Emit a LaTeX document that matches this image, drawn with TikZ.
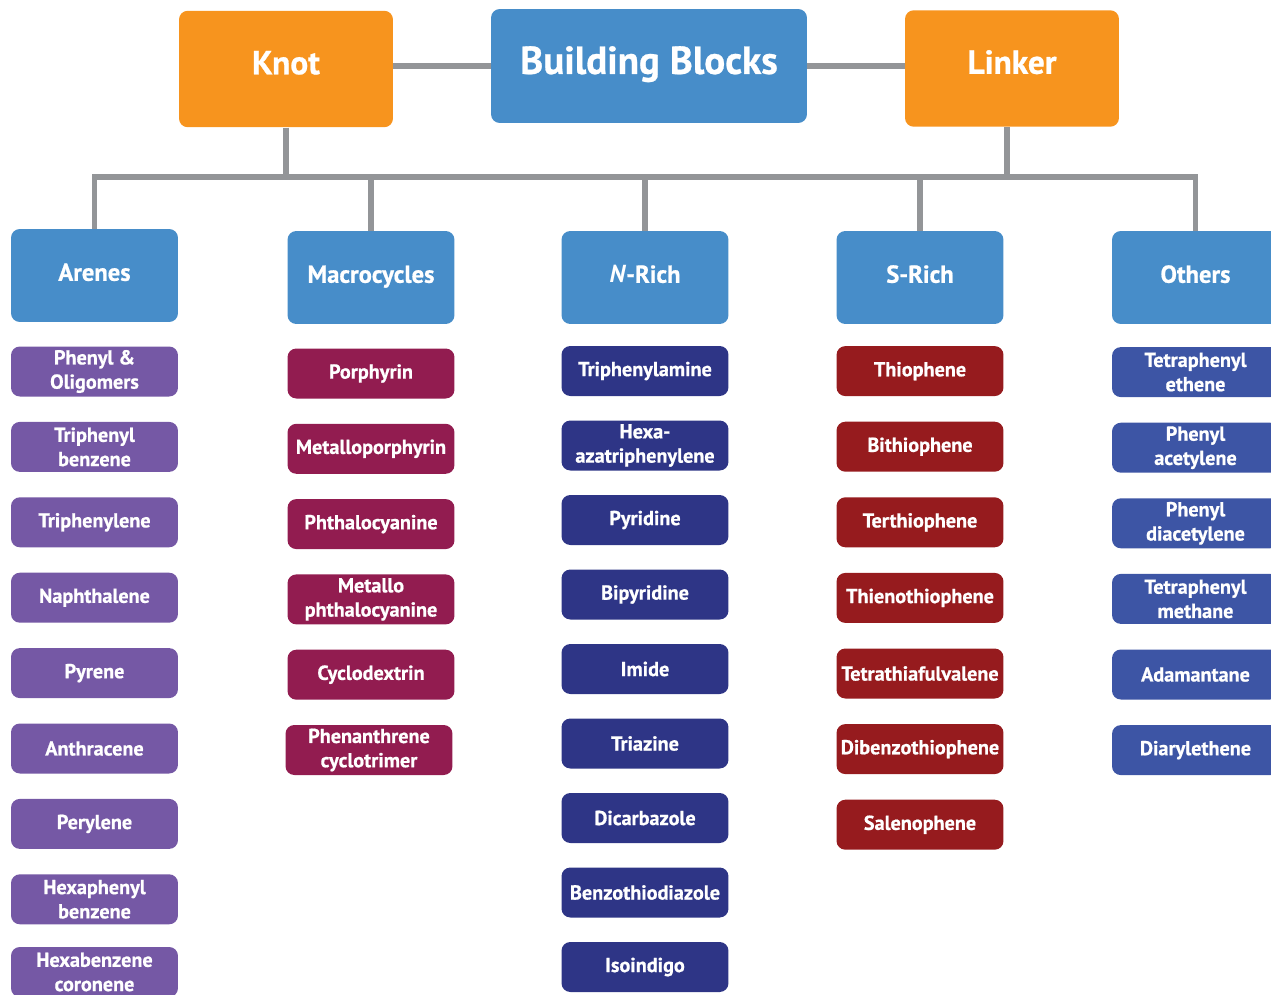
\documentclass[tikz,border=0pt]{standalone}
\usepackage{fontspec}
\setmainfont{PT Sans}[BoldFeatures={FakeBold=0.7}]
\usetikzlibrary{positioning}

\definecolor{knotorange}{RGB}{247,148,30}
\definecolor{catblue}{RGB}{71,141,201}
\definecolor{arenepurple}{RGB}{117,88,165}
\definecolor{macroberry}{RGB}{146,28,80}
\definecolor{nrichnavy}{RGB}{46,53,134}
\definecolor{srichred}{RGB}{150,27,30}
\definecolor{otherblue}{RGB}{61,85,165}
\definecolor{linkgray}{RGB}{147,149,152}

\tikzset{
  box/.style={rounded corners=5pt, text=white, font=\bfseries, align=center, inner sep=1pt},
  orangebox/.style={box, fill=knotorange, minimum width=4.28cm, minimum height=2.33cm,
    font=\bfseries\fontsize{19}{22}\selectfont, text height=13pt, text depth=7pt},
  bbbox/.style={box, fill=catblue, minimum width=6.32cm, minimum height=2.28cm,
    font=\bfseries\fontsize{22.2}{26}\selectfont, text height=16pt, text depth=7pt},
  catbox/.style={box, fill=catblue, minimum width=3.34cm, minimum height=1.86cm,
    font=\bfseries\fontsize{14}{16}\selectfont, text height=10pt, text depth=4pt},
  item/.style={box, minimum width=3.34cm, minimum height=1cm,
    font=\bfseries\fontsize{11.5}{13.8}\selectfont},
  arene/.style={item, fill=arenepurple},
  macro/.style={item, fill=macroberry},
  nitem/.style={item, fill=nrichnavy},
  sitem/.style={item, fill=srichred},
  oitem/.style={item, fill=otherblue},
  link/.style={linkgray, line width=3pt}
}

\begin{document}
\begin{tikzpicture}[x=0.02cm, y=-0.02cm]
  \clip (0,0) rectangle (1271,994);
  \useasboundingbox (0,0) rectangle (1271,994);

  % top row
  \node[orangebox] (knot) at (286,69) {Knot};
  \node[bbbox] (bb) at (649,66) {Building Blocks};
  \node[orangebox] (linker) at (1012,68.5) {Linker};
  \draw[link] (bb.west) -- (bb.west -| knot.east);
  \draw[link] (bb.east) -- (bb.east -| linker.west);

  % categories
  \node[catbox] (arenes) at (94.5,275.5) {Arenes};
  \node[catbox] (macros) at (371,277.5) {Macrocycles};
  \node[catbox] (nrich) at (645,277.5) {\textit{N}-Rich};
  \node[catbox] (srich) at (920,277.5) {S-Rich};
  \node[catbox] (others) at (1195.5,277.5) {Others};

  % tree connectors
  \coordinate (rail) at (0,177);
  \draw[link] (knot.south) -- (knot.south |- rail);
  \draw[link] ([xshift=-0.1cm]linker.south) -- ([xshift=-0.1cm]linker.south |- rail);
  \draw[link] (arenes.north) -- (arenes.north |- rail) -- (others.north |- rail) -- (others.north);
  \foreach \c in {macros,nrich,srich}
    \draw[link] (\c.north) -- (\c.north |- rail);

  % Arenes
  \foreach \txt [count=\i] in {{Phenyl \&\\Oligomers}, {Triphenyl\\benzene}, Triphenylene,
      Naphthalene, Pyrene, Anthracene, Perylene, {Hexaphenyl\\benzene}}
    \node[arene] (ar\i) at (94.5, 296.1+75.4*\i) {\txt};
  \node[arene] (ar9) at (94.5, 972) {Hexabenzene\\coronene};

  % Macrocycles
  \foreach \txt [count=\i] in {Porphyrin, Metalloporphyrin, Phthalocyanine,
      {Metallo\\phthalocyanine}, Cyclodextrin}
    \node[macro] (mc\i) at (371, 298.2+75.3*\i) {\txt};
  \node[macro] (mc6) at (369, 750) {Phenanthrene\\cyclotrimer};

  % N-Rich
  \foreach \txt [count=\i] in {Triphenylamine, {Hexa-\\azatriphenylene}, Pyridine, Bipyridine,
      Imide, Triazine, Dicarbazole, Benzothiodiazole, Isoindigo}
    \node[nitem] (nr\i) at (645, 296.5+74.5*\i) {\txt};

  % S-Rich
  \foreach \txt [count=\i] in {Thiophene, Bithiophene, Terthiophene, Thienothiophene,
      Tetrathiafulvalene, Dibenzothiophene, Salenophene}
    \node[sitem] (sr\i) at (920, 295.5+75.6*\i) {\txt};

  % Others
  \foreach \txt [count=\i] in {{Tetraphenyl\\ethene}, {Phenyl\\acetylene}, {Phenyl\\diacetylene},
      {Tetraphenyl\\methane}, Adamantane, Diarylethene}
    \node[oitem] (ot\i) at (1195.5, 296.5+75.6*\i) {\txt};
\end{tikzpicture}
\end{document}
